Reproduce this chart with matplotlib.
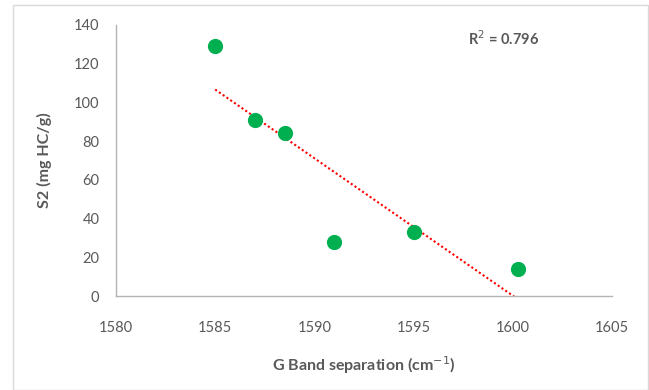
import numpy as np
import matplotlib
matplotlib.use("Agg")
import matplotlib.pyplot as plt
from matplotlib.patches import Rectangle

# data
g_band = [1585, 1587, 1588.5, 1591, 1595, 1600.25]
s2 = [129, 91, 84, 28, 33, 14]
x_ticks = [1580, 1585, 1590, 1595, 1600, 1605]
y_ticks = [0, 20, 40, 60, 80, 100, 120, 140]

plt.rcParams['font.family'] = ['Lato', 'DejaVu Sans']

fig = plt.figure(figsize=(6.49, 3.9), dpi=100)
W, H = 649, 390
ax = fig.add_axes([116 / W, 1 - 296 / H, (612 - 116) / W, (296 - 25) / H])

# chart border
fig.patches.append(Rectangle((13 / W, 0.0), (648 - 13) / W, 1 - 5 / H,
                             transform=fig.transFigure, fill=False,
                             edgecolor='#d9d9d9', linewidth=1.0))

ax.scatter(g_band, s2, s=120, color='#00b050', zorder=3, linewidths=0)

# linear trendline
x = np.array(g_band)
y = np.array(s2)
slope, intercept = np.polyfit(x, y, 1)
xs = np.array([x.min(), x.max()])
ax.plot(xs, slope * xs + intercept, color='#ff0000', linestyle=(0, (1, 1.2)),
        linewidth=1.5, zorder=2)
r2 = np.corrcoef(x, y)[0, 1] ** 2

ax.set_xlim(1580, 1605)
ax.set_ylim(0, 140)
ax.set_xticks(x_ticks)
ax.set_yticks(y_ticks)
ax.tick_params(length=0, colors='#595959', labelsize=10.5)
ax.tick_params(axis='y', pad=12)
ax.tick_params(axis='x', pad=18)

for side in ['top', 'right']:
    ax.spines[side].set_visible(False)
for side in ['left', 'bottom']:
    ax.spines[side].set_color('#b3b3b3')
    ax.spines[side].set_linewidth(1.0)

ax.set_xlabel('G Band separation (cm$^{-1}$)', fontsize=11.5, fontweight='bold',
              color='#595959', labelpad=14)
ax.set_ylabel('S2 (mg HC/g)', fontsize=11.5, fontweight='bold',
              color='#595959', labelpad=16)

ax.text(0.71, 0.95, f'R$^2$ = {r2:.3f}', transform=ax.transAxes,
        fontsize=10.5, fontweight='bold', color='#595959', va='center')

fig.savefig('out.png', dpi=100)
